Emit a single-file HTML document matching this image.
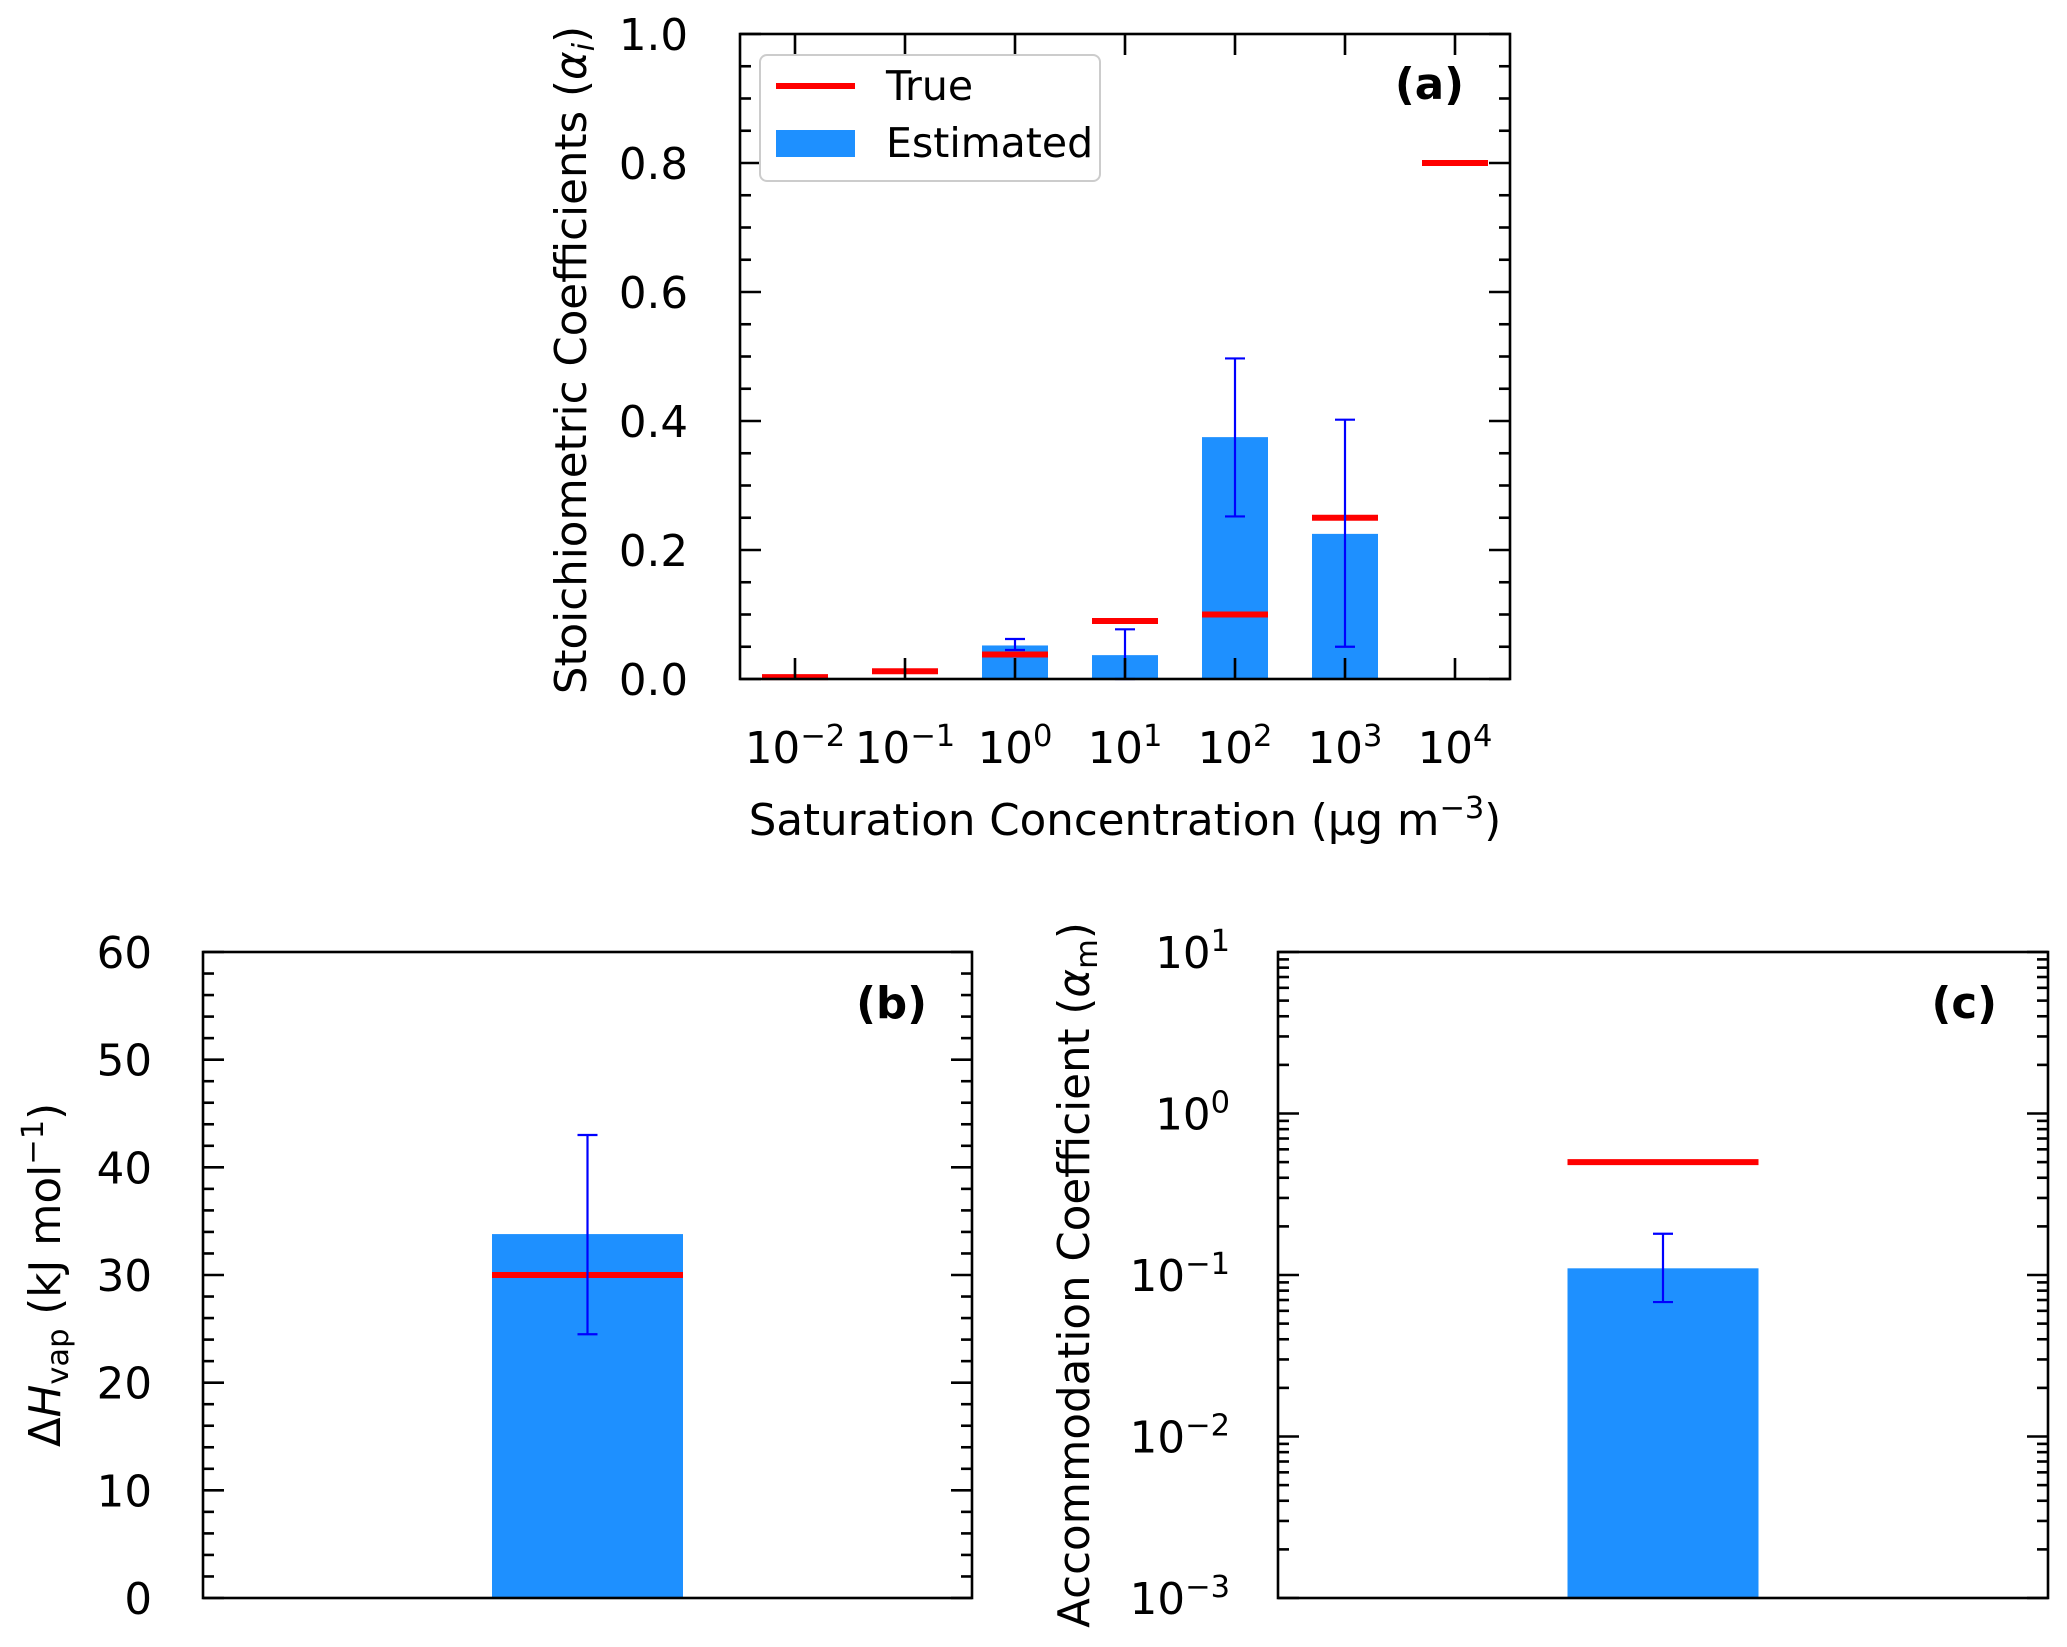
<!DOCTYPE html>
<html><head><meta charset="utf-8"><style>
html,body{margin:0;padding:0;background:#fff;}
svg{display:block;font-family:"DejaVu Sans","Liberation Sans",sans-serif;}
</style></head><body>
<svg id="fig" width="2067" height="1647" viewBox="0 0 2067 1647" xmlns="http://www.w3.org/2000/svg"></svg>
<script>
// Panel (a) data
const catLabels = ["−2","−1","0","1","2","3","4"];
const estA = [0,0,0.052,0.037,0.375,0.225,0];
const errLoA = [null,null,0.045,0.0,0.252,0.05,null];
const errHiA = [null,null,0.062,0.077,0.497,0.402,null];
const trueA = [0.003,0.012,0.038,0.09,0.1,0.25,0.8];
const yTicksA = [0,0.2,0.4,0.6,0.8,1.0];
const yTickLabelsA = ["0.0","0.2","0.4","0.6","0.8","1.0"];
// Panel (b) data
const estB = [33.8];
const errLoB = [24.5];
const errHiB = [43.0];
const trueB = [30];
const yTicksB = [0,10,20,30,40,50,60];
// Panel (c) data
const estC = [0.11];
const errLoC = [0.068];
const errHiC = [0.18];
const trueC = [0.5];
const yExpC = [-3,-2,-1,0,1];

const NS="http://www.w3.org/2000/svg";
const svg=document.getElementById('fig');
function mk(tag,attrs,parent){const e=document.createElementNS(NS,tag);for(const k in attrs)e.setAttribute(k,attrs[k]);(parent||svg).appendChild(e);return e;}
const BLUE="#1e90ff", RED="#ff0000", EB="#0000ff";
const FS=43.5;
const SFS=30.5;

function sup(t,base,exp){
  const a=document.createElementNS(NS,'tspan');a.textContent=base;t.appendChild(a);
  const b=document.createElementNS(NS,'tspan');b.setAttribute('dy','-17');b.setAttribute('font-size',SFS);b.textContent=exp;t.appendChild(b);
}
function frame(x0,x1,y0,y1,name){
  const r=mk('rect',{x:x0,y:y0,width:x1-x0,height:y1-y0,fill:'none',stroke:'#000','stroke-width':2.6});
  
  
}
function tick(x1,y1,x2,y2,name){
  const l=mk('line',{x1:x1,y1:y1,x2:x2,y2:y2,stroke:'#000','stroke-width':2.6});
  
  
}
function errbar(x,ylo,yhi,name){
  const g=mk('g',{stroke:EB,'stroke-width':2.2});
  
  
  mk('line',{x1:x,x2:x,y1:ylo,y2:yhi},g);
  mk('line',{x1:x-10,x2:x+10,y1:ylo,y2:ylo},g);
  mk('line',{x1:x-10,x2:x+10,y1:yhi,y2:yhi},g);
}

// ---------- Panel (a) ----------
const A={x0:740,x1:1510,y0:34,y1:679};
const xA=i=>A.x0+(i+0.5)*(A.x1-A.x0)/7;
const yA=v=>A.y1-v*(A.y1-A.y0);
const bwA=0.6*(A.x1-A.x0)/7;
estA.forEach((v,i)=>{ if(v>0){
  const r=mk('rect',{x:xA(i)-bwA/2,y:yA(v),width:bwA,height:yA(0)-yA(v),fill:BLUE});
  
  
}});
trueA.forEach((v,i)=>{
  const l=mk('line',{x1:xA(i)-bwA/2,x2:xA(i)+bwA/2,y1:yA(v),y2:yA(v),stroke:RED,'stroke-width':6});
  
  
});
estA.forEach((v,i)=>{ if(errLoA[i]!==null) errbar(xA(i),yA(errLoA[i]),yA(errHiA[i]),'error-bar-a'); });
frame(A.x0,A.x1,A.y0,A.y1,'axes-frame-a');
for(let k=0;k<=20;k++){const v=k*0.05;const y=yA(v);const L=(k%4===0)?21:11;
  tick(A.x0,y,A.x0+L,y,'y-tick-a');tick(A.x1,y,A.x1-L,y,'y-tick-a');}
catLabels.forEach((c,i)=>{const x=xA(i);
  tick(x,A.y1,x,A.y1-21,'x-tick-a');tick(x,A.y0,x,A.y0+21,'x-tick-a');
  const t=mk('text',{x:x,y:763,'font-size':FS,'text-anchor':'middle'});sup(t,'10',c);
  
  
});
yTicksA.forEach((v,i)=>{const t=mk('text',{x:688,y:yA(v)+16,'font-size':FS,'text-anchor':'end'});t.textContent=yTickLabelsA[i];
  
  });
{const t=mk('text',{x:1125,y:835,'font-size':FS,'text-anchor':'middle'});
 const a=document.createElementNS(NS,'tspan');a.textContent='Saturation Concentration (µg m';t.appendChild(a);
 const b=document.createElementNS(NS,'tspan');b.setAttribute('dy','-17');b.setAttribute('font-size',SFS);b.textContent='−3';t.appendChild(b);
 const c=document.createElementNS(NS,'tspan');c.setAttribute('dy','17');c.textContent=')';t.appendChild(c);
 
 }
{const t=mk('text',{x:0,y:0,'font-size':FS,'text-anchor':'middle',transform:'translate(586,360) rotate(-90)'});
 const a=document.createElementNS(NS,'tspan');a.textContent='Stoichiometric Coefficients (';t.appendChild(a);
 const b=document.createElementNS(NS,'tspan');b.setAttribute('font-style','italic');b.textContent='α';t.appendChild(b);
 const c=document.createElementNS(NS,'tspan');c.setAttribute('font-style','italic');c.setAttribute('font-size',SFS);c.setAttribute('dy','8');c.textContent='i';t.appendChild(c);
 const d=document.createElementNS(NS,'tspan');d.setAttribute('dy','-8');d.textContent=')';t.appendChild(d);
 
 }
{const t=mk('text',{x:1464,y:99,'font-size':FS,'font-weight':'bold','text-anchor':'end'});t.textContent='(a)';
 
 }
// legend
{const g=mk('g',{});
 
 
 mk('rect',{x:760,y:55,width:340,height:126,rx:7,fill:'#fff',stroke:'#cccccc','stroke-width':2},g);
 mk('line',{x1:776,x2:855,y1:86,y2:86,stroke:RED,'stroke-width':6},g);
 mk('rect',{x:776,y:130,width:79,height:27,fill:BLUE},g);
 const t1=mk('text',{x:886,y:100,'font-size':41},g);t1.textContent='True';
 
 
 const t2=mk('text',{x:886,y:157,'font-size':41},g);t2.textContent='Estimated';
 
 }

// ---------- Panel (b) ----------
const B={x0:203,x1:972,y0:952,y1:1598};
const yB=v=>B.y1-v/60*(B.y1-B.y0);
const cxB=(B.x0+B.x1)/2, bwB=191;
estB.forEach((v,i)=>{
  const r=mk('rect',{x:cxB-bwB/2,y:yB(v),width:bwB,height:yB(0)-yB(v),fill:BLUE});
  
  
  const l=mk('line',{x1:cxB-bwB/2,x2:cxB+bwB/2,y1:yB(trueB[i]),y2:yB(trueB[i]),stroke:RED,'stroke-width':6});
  
  
  errbar(cxB,yB(errLoB[i]),yB(errHiB[i]),'error-bar-b');
});
frame(B.x0,B.x1,B.y0,B.y1,'axes-frame-b');
for(let k=0;k<=30;k++){const y=yB(k*2);const L=(k%5===0)?21:11;
  tick(B.x0,y,B.x0+L,y,'y-tick-b');tick(B.x1,y,B.x1-L,y,'y-tick-b');}
yTicksB.forEach(v=>{const t=mk('text',{x:152,y:yB(v)+16,'font-size':FS,'text-anchor':'end'});t.textContent=String(v);
  
  });
{const t=mk('text',{x:0,y:0,'font-size':FS,'text-anchor':'middle',transform:'translate(60,1275) rotate(-90)'});
 const a=document.createElementNS(NS,'tspan');a.textContent='Δ';t.appendChild(a);
 const b=document.createElementNS(NS,'tspan');b.setAttribute('font-style','italic');b.textContent='H';t.appendChild(b);
 const c=document.createElementNS(NS,'tspan');c.setAttribute('font-size',SFS);c.setAttribute('dy','8');c.textContent='vap';t.appendChild(c);
 const d=document.createElementNS(NS,'tspan');d.setAttribute('dy','-8');d.textContent=' (kJ mol';t.appendChild(d);
 const e=document.createElementNS(NS,'tspan');e.setAttribute('dy','-17');e.setAttribute('font-size',SFS);e.textContent='−1';t.appendChild(e);
 const f=document.createElementNS(NS,'tspan');f.setAttribute('dy','17');f.textContent=')';t.appendChild(f);
 
 }
{const t=mk('text',{x:927,y:1018,'font-size':FS,'font-weight':'bold','text-anchor':'end'});t.textContent='(b)';
 
 }

// ---------- Panel (c) ----------
const C={x0:1278,x1:2048,y0:952,y1:1598};
const yC=v=>C.y1-(Math.log10(v)+3)/4*(C.y1-C.y0);
const cxC=(C.x0+C.x1)/2, bwC=191;
estC.forEach((v,i)=>{
  const r=mk('rect',{x:cxC-bwC/2,y:yC(v),width:bwC,height:C.y1-yC(v),fill:BLUE});
  
  
  const l=mk('line',{x1:cxC-bwC/2,x2:cxC+bwC/2,y1:yC(trueC[i]),y2:yC(trueC[i]),stroke:RED,'stroke-width':6});
  
  
  errbar(cxC,yC(errLoC[i]),yC(errHiC[i]),'error-bar-c');
});
frame(C.x0,C.x1,C.y0,C.y1,'axes-frame-c');
for(let e=-3;e<1;e++){for(let m=1;m<10;m++){const y=yC(m*Math.pow(10,e));const L=(m===1)?21:11;
  tick(C.x0,y,C.x0+L,y,'y-tick-c');tick(C.x1,y,C.x1-L,y,'y-tick-c');}}
tick(C.x0,yC(10),C.x0+21,yC(10),'y-tick-c');tick(C.x1,yC(10),C.x1-21,yC(10),'y-tick-c');
yExpC.forEach(e=>{const t=mk('text',{x:1230,y:yC(Math.pow(10,e))+16,'font-size':FS,'text-anchor':'end'});
  sup(t,'10',e<0?('−'+(-e)):String(e));
  
  });
{const t=mk('text',{x:0,y:0,'font-size':FS,'text-anchor':'middle',transform:'translate(1089,1275) rotate(-90)'});
 const a=document.createElementNS(NS,'tspan');a.textContent='Accommodation Coefficient (';t.appendChild(a);
 const b=document.createElementNS(NS,'tspan');b.setAttribute('font-style','italic');b.textContent='α';t.appendChild(b);
 const c=document.createElementNS(NS,'tspan');c.setAttribute('font-size',SFS);c.setAttribute('dy','8');c.textContent='m';t.appendChild(c);
 const d=document.createElementNS(NS,'tspan');d.setAttribute('dy','-8');d.textContent=')';t.appendChild(d);
 
 }
{const t=mk('text',{x:1997,y:1018,'font-size':FS,'font-weight':'bold','text-anchor':'end'});t.textContent='(c)';
 
 }
</script>
</body></html>
